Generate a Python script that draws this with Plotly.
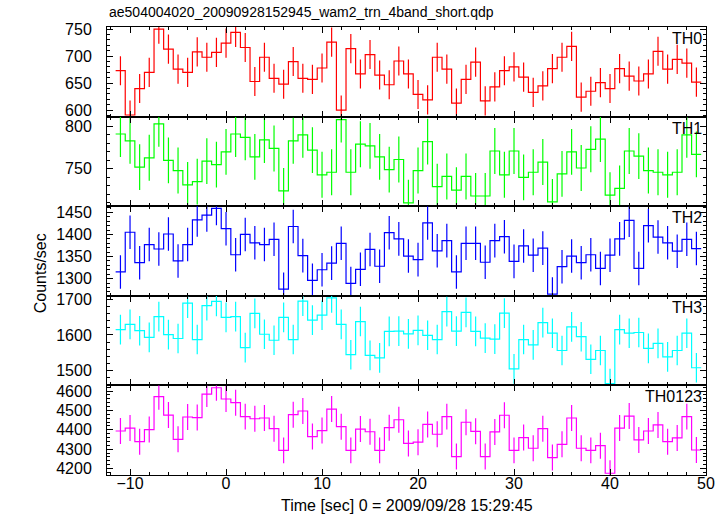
import plotly.graph_objects as go
from plotly.subplots import make_subplots

TIME = list(range(-11, 50))

TH0 = [673, 591, 640, 670, 750, 713, 676, 670, 708, 698,
       707, 724, 744, 716, 653, 698, 659, 648, 690, 659,
       657, 678, 726, 600, 714, 667, 703, 665, 647, 691,
       667, 629, 619, 698, 676, 613, 657, 689, 617, 643,
       673, 680, 661, 633, 645, 677, 698, 718, 624, 635,
       651, 640, 677, 663, 654, 667, 709, 676, 694, 687,
       652]
TH1 = [791, 783, 752, 763, 803, 760, 748, 731, 735, 759,
       755, 770, 791, 787, 764, 784, 774, 724, 783, 790,
       772, 743, 746, 808, 746, 779, 777, 764, 749, 761,
       710, 748, 782, 729, 741, 725, 741, 718, 718, 771,
       743, 771, 740, 746, 758, 711, 744, 770, 751, 773,
       785, 719, 727, 771, 765, 748, 746, 743, 746, 790,
       767]
TH2 = [1315, 1405, 1336, 1377, 1367, 1401, 1340, 1377, 1433, 1444,
       1459, 1413, 1354, 1400, 1381, 1377, 1389, 1276, 1418, 1352,
       1296, 1320, 1335, 1380, 1289, 1321, 1366, 1328, 1404, 1390,
       1351, 1343, 1426, 1363, 1386, 1315, 1380, 1380, 1337, 1386,
       1395, 1339, 1374, 1353, 1369, 1265, 1327, 1351, 1336, 1354,
       1323, 1353, 1390, 1432, 1323, 1420, 1394, 1381, 1362, 1389,
       1368]
TH3 = [1615, 1630, 1612, 1593, 1652, 1601, 1590, 1690, 1587, 1683,
       1695, 1650, 1652, 1564, 1661, 1602, 1585, 1650, 1587, 1696,
       1642, 1656, 1705, 1630, 1544, 1638, 1542, 1535, 1610, 1611,
       1603, 1613, 1599, 1587, 1666, 1611, 1664, 1610, 1591, 1588,
       1662, 1504, 1587, 1572, 1635, 1605, 1556, 1623, 1595, 1531,
       1556, 1462, 1615, 1605, 1607, 1562, 1576, 1538, 1556, 1605,
       1507]
TH0123 = [4394, 4409, 4339, 4401, 4571, 4476, 4351, 4466, 4463, 4584,
          4617, 4559, 4540, 4468, 4457, 4461, 4406, 4294, 4478, 4497,
          4365, 4396, 4507, 4416, 4294, 4404, 4390, 4294, 4411, 4452,
          4330, 4336, 4428, 4377, 4468, 4262, 4439, 4392, 4262, 4389,
          4475, 4294, 4360, 4305, 4406, 4257, 4325, 4461, 4305, 4294,
          4318, 4176, 4409, 4471, 4348, 4394, 4425, 4339, 4358, 4468,
          4296]

ERRORS = [27, 27, 38, 42, 67]
NAMES = ["TH0", "TH1", "TH2", "TH3", "TH0123"]
SERIES = [TH0, TH1, TH2, TH3, TH0123]
COLORS = ["#ff0000", "#00ff00", "#0000ff", "#00ffff", "#ff00ff"]
YRANGES = [[588, 754], [706, 811.5], [1261, 1464], [1457, 1711], [4167, 4629]]
YDTICK = [50, 50, 50, 100, 100]
YMINOR = [10, 10, 10, 20, 20]

TITLE = "ae504004020_20090928152945_wam2_trn_4band_short.qdp"
XLABEL = "Time [sec] 0 = 2009/09/28 15:29:45"
YLABEL = "Counts/sec"

FONT = "Liberation Sans, Arial, Helvetica, sans-serif"
FS = 16

fig = make_subplots(rows=5, cols=1, shared_xaxes=True, vertical_spacing=0)

for i, (name, vals, err, color) in enumerate(zip(NAMES, SERIES, ERRORS, COLORS)):
    r = i + 1
    edges = [t - 0.5 for t in TIME] + [TIME[-1] + 0.5]
    stepy = list(vals) + [vals[-1]]
    fig.add_trace(go.Scatter(x=edges, y=stepy, mode="lines",
                             line=dict(shape="hv", color=color, width=1.2),
                             hoverinfo="skip", showlegend=False), row=r, col=1)
    fig.add_trace(go.Scatter(x=TIME, y=vals, mode="markers",
                             marker=dict(size=1, color=color),
                             error_y=dict(type="constant", value=err, color=color,
                                          thickness=1.2, width=0),
                             showlegend=False), row=r, col=1)
    fig.update_yaxes(range=YRANGES[i], dtick=YDTICK[i], tick0=0,
                     ticks="inside", ticklen=6, tickwidth=1, tickcolor="black",
                     minor=dict(dtick=YMINOR[i], ticks="inside", ticklen=3,
                                tickcolor="black", showgrid=False),
                     showline=True, linecolor="black", linewidth=1,
                     mirror="allticks", showgrid=False, zeroline=False,
                     ticklabelstandoff=11, automargin=False,
                     tickfont=dict(family=FONT, size=FS, color="black"),
                     row=r, col=1)
    fig.update_xaxes(range=[-12.4, 50], dtick=10, tick0=0,
                     ticks="inside", ticklen=6, tickwidth=1, tickcolor="black",
                     minor=dict(dtick=2, ticks="inside", ticklen=3,
                                tickcolor="black", showgrid=False),
                     showline=True, linecolor="black", linewidth=1,
                     mirror="allticks", showgrid=False, zeroline=False,
                     automargin=False, ticklabelstandoff=-6,
                     tickfont=dict(family=FONT, size=FS, color="black"),
                     row=r, col=1)
    fig.add_annotation(text=name, xref=f"x{'' if r == 1 else r} domain",
                       yref=f"y{'' if r == 1 else r} domain",
                       x=1, y=1, xanchor="right", yanchor="top",
                       xshift=-2, yshift=-1, showarrow=False,
                       font=dict(family=FONT, size=16, color="black"))

fig.add_annotation(text=TITLE, xref="paper", yref="paper", x=0, y=1,
                   xanchor="left", yanchor="middle", yshift=15, showarrow=False,
                   font=dict(family=FONT, size=14, color="black"))
fig.add_annotation(text=XLABEL, xref="paper", yref="paper", x=0.5, y=0,
                   xanchor="center", yanchor="middle", yshift=-30, showarrow=False,
                   font=dict(family=FONT, size=FS, color="black"))
fig.add_annotation(text=YLABEL, xref="paper", yref="paper", x=-0.112, y=0.45,
                   xanchor="center", yanchor="middle", textangle=-90, showarrow=False,
                   font=dict(family=FONT, size=FS, color="black"))

fig.update_layout(width=728, height=516,
                  margin=dict(l=107, r=22, t=27, b=41),
                  plot_bgcolor="white", paper_bgcolor="white",
                  showlegend=False)

fig.write_html("out.html", config={"displayModeBar": False},
               post_script="document.body.style.margin='0';")
